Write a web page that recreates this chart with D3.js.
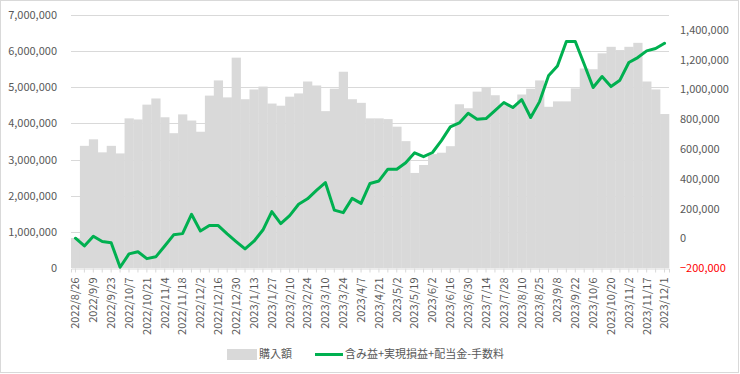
<!DOCTYPE html>
<html>
<head>
<meta charset="utf-8">
<script src="https://cdn.jsdelivr.net/npm/d3@7"></script>
<style>
  body { margin: 0; background: #fff; }
  text { font-family: "Noto Sans CJK JP", "Noto Sans", sans-serif; fill: #595959; }
</style>
</head>
<body>
<div id="chart"></div>
<script>
// weekly dates (every other one is labelled on the axis)
const dates = [
  "2022/8/26","2022/9/2","2022/9/9","2022/9/16","2022/9/23","2022/9/30","2022/10/7","2022/10/14",
  "2022/10/21","2022/10/28","2022/11/4","2022/11/11","2022/11/18","2022/11/25","2022/12/2","2022/12/9",
  "2022/12/16","2022/12/23","2022/12/30","2023/1/6","2023/1/13","2023/1/20","2023/1/27","2023/2/3",
  "2023/2/10","2023/2/17","2023/2/24","2023/3/3","2023/3/10","2023/3/17","2023/3/24","2023/3/31",
  "2023/4/7","2023/4/14","2023/4/21","2023/4/28","2023/5/2","2023/5/12","2023/5/19","2023/5/26",
  "2023/6/2","2023/6/9","2023/6/16","2023/6/23","2023/6/30","2023/7/7","2023/7/14","2023/7/21",
  "2023/7/28","2023/8/4","2023/8/10","2023/8/18","2023/8/25","2023/9/1","2023/9/8","2023/9/15",
  "2023/9/22","2023/9/29","2023/10/6","2023/10/13","2023/10/20","2023/10/27","2023/11/2","2023/11/10",
  "2023/11/17","2023/11/24","2023/12/1"
];

// 購入額 (left axis)
const purchase = [
  830000, 3380000, 3560000, 3200000, 3380000, 3170000, 4140000, 4110000,
  4520000, 4690000, 4170000, 3730000, 4250000, 4080000, 3770000, 4770000,
  5190000, 4720000, 5820000, 4670000, 4940000, 5020000, 4550000, 4490000,
  4740000, 4830000, 5160000, 5050000, 4340000, 4960000, 5430000, 4670000,
  4570000, 4140000, 4140000, 4120000, 3910000, 3510000, 2630000, 2850000,
  3150000, 3190000, 3370000, 4530000, 4420000, 4880000, 5010000, 4780000,
  4550000, 4500000, 4800000, 4960000, 5190000, 4460000, 4610000, 4610000,
  4970000, 5520000, 5500000, 5940000, 6120000, 6030000, 6120000, 6230000,
  5160000, 4940000, 4260000
];

// 含み益+実現損益+配当金-手数料 (right axis)
const profit = [
  0, -52000, 13000, -22000, -30000, -195000, -105000, -91000,
  -137000, -125000, -52000, 23000, 31000, 161000, 49000, 85000,
  85000, 30000, -22000, -72000, -20000, 55000, 179000, 98000,
  152000, 228000, 265000, 322000, 374000, 189000, 172000, 268000,
  234000, 368000, 385000, 464000, 464000, 507000, 574000, 548000,
  576000, 656000, 748000, 775000, 840000, 800000, 804000, 858000,
  912000, 878000, 931000, 811000, 918000, 1091000, 1158000, 1322000,
  1322000, 1169000, 1013000, 1087000, 1019000, 1062000, 1181000, 1214000,
  1259000, 1275000, 1310000
];

const leftTicks = [0, 1000000, 2000000, 3000000, 4000000, 5000000, 6000000, 7000000];
const rightTicks = [-200000, 0, 200000, 400000, 600000, 800000, 1000000, 1200000, 1400000];
const legendLabels = ["購入額", "含み益+実現損益+配当金-手数料"];

const width = 740, height = 374;
const margin = { top: 15, right: 71, bottom: 106, left: 71 };

const svg = d3.select("#chart").append("svg")
    .attr("width", width)
    .attr("height", height);

// chart border
svg.append("rect")
    .attr("x", 0.5).attr("y", 0.5)
    .attr("width", width - 2).attr("height", height - 2)
    .attr("fill", "#fff")
    .attr("stroke", "#d9d9d9");

const x = d3.scaleBand()
    .domain(dates)
    .range([margin.left, width - margin.right])
    .padding(0);

const yLeft = d3.scaleLinear()
    .domain([0, 7000000])
    .range([height - margin.bottom, margin.top]);

const yRight = d3.scaleLinear()
    .domain([-200000, 1500000])
    .range([height - margin.bottom, margin.top]);

const fmt = d3.format(",");

// gridlines
svg.append("g")
    .selectAll("line")
    .data(leftTicks.slice(1))
    .enter().append("line")
        .attr("x1", margin.left)
        .attr("x2", width - margin.right)
        .attr("y1", function(d) { return Math.round(yLeft(d)) + 0.5; })
        .attr("y2", function(d) { return Math.round(yLeft(d)) + 0.5; })
        .attr("stroke", "#d9d9d9");

// bars
svg.append("g")
    .selectAll("rect")
    .data(purchase)
    .enter().append("rect")
        .attr("x", function(d, i) { return x(dates[i]); })
        .attr("width", x.bandwidth() + 0.3)
        .attr("y", function(d) { return yLeft(d); })
        .attr("height", function(d) { return yLeft(0) - yLeft(d); })
        .attr("fill", "#d9d9d9");

// x axis
const xAxis = svg.append("g")
    .attr("transform", "translate(0," + (Math.round(yLeft(0)) + 0.5) + ")")
    .call(d3.axisBottom(x)
        .tickSize(4)
        .tickFormat(function(d, i) { return i % 2 === 0 ? d : ""; }));
xAxis.select(".domain").attr("stroke", "#d9d9d9");
xAxis.selectAll(".tick line").attr("stroke", "#d9d9d9");
xAxis.selectAll(".tick text")
    .attr("transform", "rotate(-90)")
    .attr("text-anchor", "end")
    .attr("x", -9)
    .attr("y", 0)
    .attr("dy", "0.35em")
    .style("font-size", "11px")
    .style("font-family", "\"Noto Sans CJK JP\", \"Noto Sans\", sans-serif")
    .style("fill", "#595959");

// left axis
const leftAxis = svg.append("g")
    .attr("transform", "translate(" + (margin.left - 14) + ",0)")
    .call(d3.axisLeft(yLeft).tickValues(leftTicks).tickSize(0).tickFormat(fmt));
leftAxis.select(".domain").remove();
leftAxis.selectAll("text")
    .attr("x", 0)
    .style("font-size", "11px")
    .style("font-family", "\"Noto Sans CJK JP\", \"Noto Sans\", sans-serif")
    .style("fill", "#595959");

// right axis
const rightAxis = svg.append("g")
    .attr("transform", "translate(" + (width - margin.right + 11) + ",0)")
    .call(d3.axisRight(yRight).tickValues(rightTicks).tickSize(0).tickFormat(fmt));
rightAxis.select(".domain").remove();
rightAxis.selectAll("text")
    .attr("x", 0)
    .style("font-size", "11px")
    .style("font-family", "\"Noto Sans CJK JP\", \"Noto Sans\", sans-serif")
    .style("fill", function(d) { return d < 0 ? "#ff0000" : "#595959"; });

// profit line
const line = d3.line()
    .x(function(d, i) { return x(dates[i]) + x.bandwidth() / 2; })
    .y(function(d) { return yRight(d); });

svg.append("path")
    .datum(profit)
    .attr("d", line)
    .attr("fill", "none")
    .attr("stroke", "#00b050")
    .attr("stroke-width", 3)
    .attr("stroke-linejoin", "round")
    .attr("stroke-linecap", "round");

// legend
const legend = svg.append("g").attr("id", "legend");
legend.append("rect")
    .attr("x", 227).attr("y", 349)
    .attr("width", 30).attr("height", 11)
    .attr("fill", "#d9d9d9");
legend.append("text")
    .attr("x", 259).attr("y", 354.5)
    .attr("dy", "0.35em")
    .style("font-size", "11px")
    .text(legendLabels[0]);
legend.append("line")
    .attr("x1", 315).attr("x2", 343)
    .attr("y1", 354.5).attr("y2", 354.5)
    .attr("stroke", "#00b050")
    .attr("stroke-width", 3);
legend.append("text")
    .attr("x", 345).attr("y", 354.5)
    .attr("dy", "0.35em")
    .style("font-size", "11px")
    .text(legendLabels[1]);
</script>
</body>
</html>
